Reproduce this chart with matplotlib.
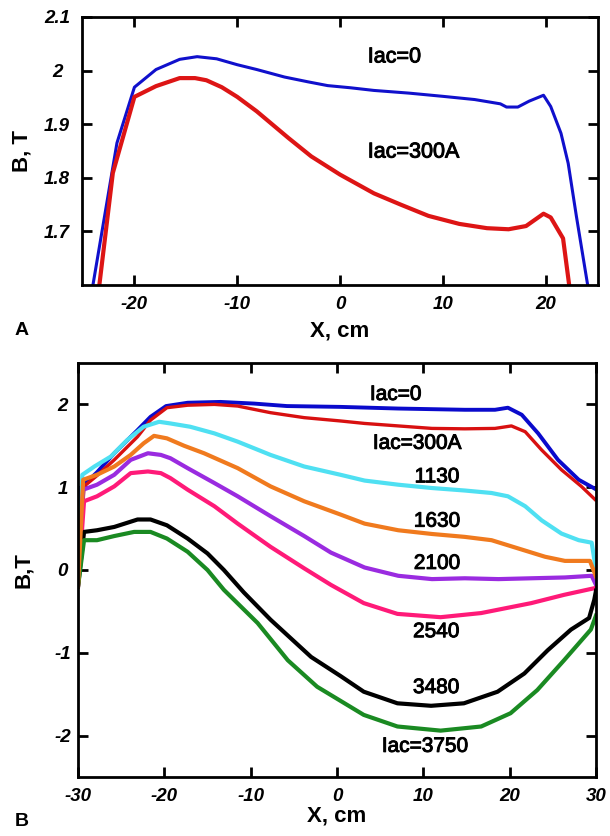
import matplotlib
matplotlib.use("Agg")
import matplotlib.pyplot as plt
import matplotlib.patheffects as pe

plt.rcParams['font.family'] = ['Liberation Sans', 'DejaVu Sans']

# ---------------- Panel A data ----------------
xa_iac0 = [-24.3, -21.7, -20.0, -17.9, -15.6, -13.9, -12.0, -10.0, -8.1, -5.4, -3.1, -1.2, 1.0, 3.3,
           6.7, 10.0, 13.1, 15.6, 16.2, 17.3, 18.4, 19.8, 20.5, 21.5, 22.2, 23.0, 24.35]
ya_iac0 = [1.57, 1.865, 1.969, 2.002, 2.021, 2.026, 2.022, 2.011, 2.002, 1.988, 1.979, 1.972, 1.968, 1.963,
           1.958, 1.952, 1.946, 1.938, 1.932, 1.932, 1.943, 1.954, 1.933, 1.883, 1.827, 1.728, 1.57]
xa_iac300 = [-23.6, -22.1, -20.0, -17.9, -15.6, -14.1, -13.0, -11.5, -10.0, -8.1, -5.0, -2.8, 0.0, 3.3,
             5.9, 8.6, 11.6, 14.3, 16.4, 18.1, 19.8, 20.5, 21.7, 22.5]
ya_iac300 = [1.57, 1.809, 1.951, 1.971, 1.986, 1.986, 1.982, 1.969, 1.951, 1.924, 1.874, 1.840, 1.806, 1.771,
             1.750, 1.729, 1.714, 1.706, 1.704, 1.710, 1.733, 1.726, 1.687, 1.57]

a_xticks = [-20, -10, 0, 10, 20]
a_yticks = [1.7, 1.8, 1.9, 2.0, 2.1]
a_yticklabels = ['1.7', '1.8', '1.9', '2', '2.1']

# ---------------- Panel B data ----------------
xb_0 = [-30, -29.7, -27.8, -25.8, -23.1, -21.6, -19.8, -17.3, -13.5, -9.6, -5.8, 0.4, 7.1, 14.8, 18.3, 19.8,
        21.4, 23.3, 25.6, 28.0, 29.9]
yb_0 = [-0.2, 0.99, 1.18, 1.41, 1.69, 1.85, 1.98, 2.02, 2.03, 2.01, 1.98, 1.97, 1.95, 1.935, 1.935, 1.96,
        1.875, 1.65, 1.33, 1.09, 0.98]

xb_300 = [-30, -29.3, -27.8, -25.8, -23.1, -21.6, -19.7, -17.3, -14.2, -11.5, -7.7, -3.8, 0.4, 3.2, 7.1, 11.0,
          14.8, 18.3, 20.2, 21.8, 23.7, 26.0, 28.3, 29.9]
yb_300 = [-0.2, 1.01, 1.14, 1.33, 1.61, 1.81, 1.96, 1.99, 2.0, 1.98, 1.90, 1.84, 1.80, 1.77, 1.74, 1.71,
          1.705, 1.71, 1.74, 1.67, 1.45, 1.21, 1.01, 0.85]

xb_1130 = [-30, -29.5, -28.1, -26.2, -24.3, -22.4, -20.6, -19.3, -17.0, -14.2, -11.5, -7.7, -3.8, 0.4, 3.2,
           7.1, 11.0, 14.8, 17.9, 19.8, 21.8, 23.7, 26.0, 28.0, 29.5, 30]
yb_1130 = [-0.2, 1.15, 1.25, 1.37, 1.57, 1.73, 1.79, 1.77, 1.73, 1.65, 1.55, 1.39, 1.25, 1.15, 1.08,
           1.03, 0.99, 0.96, 0.93, 0.89, 0.77, 0.60, 0.44, 0.36, 0.33, 0.0]

xb_1630 = [-30, -29.4, -27.8, -25.8, -23.9, -22.4, -21.2, -19.7, -17.7, -15.4, -11.5, -7.7, -3.8, 0.4, 3.2,
           7.1, 11.0, 14.8, 17.9, 21.0, 24.1, 26.4, 29.3, 30]
yb_1630 = [-0.2, 1.09, 1.15, 1.25, 1.39, 1.53, 1.62, 1.59, 1.50, 1.41, 1.23, 1.01, 0.83, 0.67, 0.56,
           0.48, 0.435, 0.40, 0.36, 0.26, 0.16, 0.11, 0.11, -0.08]

xb_2100 = [-30, -29.4, -27.8, -25.8, -23.9, -21.9, -20.4, -19.3, -17.3, -14.2, -11.5, -7.7, -3.8, -0.7,
           3.2, 7.1, 11.0, 14.8, 18.7, 22.5, 26.4, 29.5, 30]
yb_2100 = [-0.2, 0.97, 1.03, 1.15, 1.33, 1.41, 1.39, 1.35, 1.23, 1.05, 0.89, 0.65, 0.41, 0.21,
           0.03, -0.07, -0.11, -0.10, -0.11, -0.10, -0.09, -0.07, -0.18]

xb_2540 = [-30, -29.3, -27.8, -25.8, -23.9, -21.9, -20.4, -19.3, -17.3, -14.2, -11.5, -7.7, -3.8, -0.7,
           3.1, 7.0, 12.0, 16.7, 22.5, 26.3, 29.8, 30]
yb_2540 = [-0.2, 0.83, 0.89, 1.01, 1.17, 1.19, 1.17, 1.11, 0.97, 0.77, 0.56, 0.28, 0.02, -0.18,
           -0.40, -0.53, -0.57, -0.52, -0.40, -0.30, -0.22, -0.22]

xb_3480 = [-30, -29.3, -27.8, -25.8, -23.1, -21.6, -19.7, -17.3, -15.0, -13.1, -10.8, -7.7, -3.0, 0.4,
           3.1, 7.0, 10.9, 14.7, 18.6, 21.7, 24.4, 27.1, 29.2, 29.8, 30]
yb_3480 = [-0.2, 0.46, 0.48, 0.52, 0.61, 0.61, 0.54, 0.38, 0.2, 0.0, -0.27, -0.60, -1.05, -1.28,
           -1.47, -1.61, -1.64, -1.61, -1.47, -1.25, -0.97, -0.72, -0.58, -0.36, -0.25]

xb_3750 = [-30, -29.3, -27.8, -25.8, -23.5, -21.6, -19.7, -17.3, -15.0, -13.1, -9.2, -5.7, -2.3, 0.4,
           3.1, 7.0, 12.0, 16.7, 20.1, 23.2, 26.3, 29.4, 30]
yb_3750 = [-0.2, 0.36, 0.36, 0.41, 0.46, 0.46, 0.38, 0.22, 0.0, -0.24, -0.64, -1.09, -1.41, -1.58,
           -1.75, -1.89, -1.94, -1.89, -1.73, -1.45, -1.09, -0.72, -0.55]

b_xticks = [-30, -20, -10, 0, 10, 20, 30]
b_yticks = [-2, -1, 0, 1, 2]

b_labels = ['Iac=0', 'Iac=300A', '1130', '1630', '2100', '2540', '3480', 'Iac=3750']
b_label_x = [6.8, 9.3, 11.6, 11.6, 11.6, 11.5, 11.5, 10.2]
b_label_y = [2.12, 1.53, 1.125, 0.59, 0.08, -0.745, -1.42, -2.13]

# ---------------- Figure ----------------
W, H = 610, 836
fig = plt.figure(figsize=(W / 100, H / 100), dpi=100)
fig.patch.set_facecolor('white')

thick = [pe.withStroke(linewidth=0.7, foreground='black')]


def style_axes(ax, ypad):
    for sp in ax.spines.values():
        sp.set_linewidth(2.0)
    ax.tick_params(direction='in', length=7, width=2.0, top=True, right=True,
                   labeltop=False, labelright=False)
    ax.tick_params(axis='x', pad=8)
    ax.tick_params(axis='y', pad=ypad)
    for lbl in ax.get_xticklabels() + ax.get_yticklabels():
        lbl.set_fontsize(13.5)
        lbl.set_fontweight('bold')
        lbl.set_fontstyle('italic')
    for lbl in ax.get_yticklabels():
        lbl.set_ha('center')


# Panel A
axA = fig.add_axes([82 / W, 1 - 285 / H, 516 / W, 268 / H])
axA.plot(xa_iac0, ya_iac0, color='#1010cc', lw=2.2)
axA.plot(xa_iac300, ya_iac300, color='#dd1515', lw=3.0)
axA.set_xlim(-25.1, 25.1)
axA.set_ylim(1.6, 2.1)
axA.set_xticks(a_xticks)
axA.set_xticklabels([str(v) for v in a_xticks])
axA.set_yticks(a_yticks)
axA.set_yticklabels(a_yticklabels)
style_axes(axA, 18)
axA.text(2.7, 2.0255, 'Iac=0', fontsize=15.5, ha='left', va='center', path_effects=thick)
axA.text(2.7, 1.848, 'Iac=300A', fontsize=15.5, ha='left', va='center', path_effects=thick)
axA.set_xlabel('X, cm', fontsize=16, fontweight='bold')
axA.xaxis.label.set_va('center')
axA.xaxis.set_label_coords(0.5, (285 - 331) / 268)
axA.set_ylabel('B, T', fontsize=16, fontweight='bold')
axA.yaxis.label.set_va('center')
axA.yaxis.set_label_coords((22 - 82) / 516, 0.5)
fig.text(22 / W, 1 - 331 / H, 'A', fontsize=14, fontweight='bold', ha='center', va='center')

# Panel B
axB = fig.add_axes([78 / W, 1 - 777 / H, 518 / W, 414 / H])
b_series = [
    (xb_0, yb_0, '#0a0acc', 2.8),
    (xb_300, yb_300, '#d81010', 2.4),
    (xb_1130, yb_1130, '#4fe0f2', 3.0),
    (xb_2100, yb_2100, '#9a2be0', 3.0),
    (xb_2540, yb_2540, '#ff1a78', 3.0),
    (xb_3480, yb_3480, '#000000', 3.0),
    (xb_3750, yb_3750, '#1a8a22', 3.0),
    (xb_1630, yb_1630, '#f07a1e', 3.0),
]
for xs, ys, c, lw in b_series:
    axB.plot(xs, ys, color=c, lw=lw, solid_joinstyle='round')
axB.set_xlim(-30, 30)
axB.set_ylim(-2.5, 2.5)
axB.set_xticks(b_xticks)
axB.set_xticklabels([str(v) for v in b_xticks])
axB.set_yticks(b_yticks)
axB.set_yticklabels([str(v) for v in b_yticks])
style_axes(axB, 11)
for t, x, y in zip(b_labels, b_label_x, b_label_y):
    axB.text(x, y, t, fontsize=15, ha='center', va='center', path_effects=thick)
axB.set_xlabel('X, cm', fontsize=16, fontweight='bold')
axB.xaxis.label.set_va('center')
axB.xaxis.set_label_coords(0.5, (777 - 816) / 414)
axB.set_ylabel('B,T', fontsize=16, fontweight='bold')
axB.yaxis.label.set_va('center')
axB.yaxis.set_label_coords((24 - 78) / 518, 0.5)
fig.text(22 / W, 1 - 821 / H, 'B', fontsize=14, fontweight='bold', ha='center', va='center')

fig.savefig('out.png', dpi=100, facecolor='white')
